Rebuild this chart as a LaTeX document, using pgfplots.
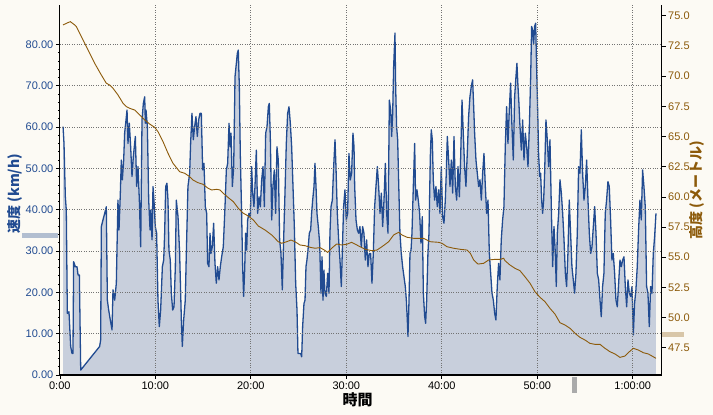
\documentclass[border=0pt]{standalone}
\usepackage{pgfplots}
\pgfplotsset{compat=1.18}
\usepackage{pgfplotstable}
\usepackage{fontspec}
\setmainfont{Liberation Sans}
\newfontfamily\cjk{Noto Sans CJK JP}
\definecolor{bgc}{RGB}{252,250,244}
\definecolor{spd}{RGB}{33,75,145}
\definecolor{spdfill}{RGB}{200,207,220}
\definecolor{ele}{RGB}{140,90,10}
\definecolor{lbar}{RGB}{178,190,208}
\definecolor{rbar}{RGB}{216,198,168}
\definecolor{bbar}{RGB}{170,170,170}
\pgfplotstableread{
t v
0.34 60.1
0.44 56.0
0.58 43.1
0.68 39.9
0.79 14.9
0.96 15.3
1.14 6.9
1.28 5.2
1.38 5.2
1.45 27.4
1.63 26.2
1.80 26.2
1.91 24.2
2.05 24.2
2.15 7.7
2.19 1.2
4.17 6.9
4.28 8.5
4.35 35.9
4.52 37.5
4.70 39.1
4.87 40.7
4.98 18.1
5.12 15.7
5.29 13.3
5.47 10.9
5.57 20.6
5.75 18.1
5.92 22.2
6.09 42.3
6.20 35.1
6.34 44.0
6.44 52.0
6.55 47.2
6.69 52.0
6.79 58.5
6.90 60.9
7.04 64.1
7.14 56.0
7.28 60.9
7.42 55.2
7.56 48.0
7.70 52.8
7.91 57.7
8.05 45.6
8.19 50.4
8.33 42.3
8.47 31.0
8.61 61.7
8.75 65.7
8.89 67.3
8.96 60.9
9.03 64.1
9.17 60.1
9.31 42.3
9.45 35.1
9.52 39.9
9.66 32.7
9.76 45.6
9.86 42.3
10.00 35.9
10.14 34.3
10.28 18.1
10.42 11.7
10.56 15.7
10.74 26.2
10.88 27.8
10.98 34.3
11.09 45.6
11.22 46.4
11.33 42.3
11.43 30.2
11.57 27.8
11.68 19.8
11.82 15.7
11.96 16.5
12.10 26.2
12.20 42.3
12.38 38.3
12.55 29.4
12.73 13.3
12.83 6.9
12.97 13.3
13.14 18.1
13.25 29.4
13.42 45.6
13.60 48.8
13.70 56.0
13.84 63.3
13.98 56.9
14.12 60.1
14.26 62.5
14.40 57.7
14.54 61.7
14.68 63.3
14.82 63.3
14.96 49.6
15.10 51.2
15.24 40.7
15.38 39.1
15.48 27.0
15.62 26.2
15.73 34.3
15.83 29.4
15.97 31.0
16.11 36.7
16.25 27.0
16.39 22.2
16.53 26.2
16.67 23.0
16.81 26.2
16.95 28.6
17.12 31.0
17.30 40.7
17.44 49.6
17.58 51.2
17.72 60.9
17.82 55.2
17.93 58.5
18.07 45.6
18.21 50.4
18.35 72.2
18.49 75.4
18.59 77.8
18.69 78.6
18.80 69.8
18.90 53.6
19.04 39.1
19.15 26.2
19.25 19.0
19.36 25.4
19.46 34.3
19.57 30.2
19.67 37.5
19.81 39.1
19.95 38.3
20.09 50.4
20.20 44.0
20.33 40.7
20.44 45.6
20.58 54.4
20.72 39.1
20.86 43.1
21.00 40.7
21.14 47.2
21.28 50.4
21.42 40.7
21.56 58.5
21.70 60.1
21.84 64.9
21.94 65.7
22.05 56.9
22.19 37.5
22.32 45.6
22.46 49.6
22.60 39.1
22.74 55.2
22.88 52.0
23.02 32.7
23.16 29.4
23.30 20.6
23.44 32.7
23.58 44.0
23.72 56.0
23.86 63.3
24.00 64.9
24.14 60.9
24.28 55.2
24.42 45.6
24.56 35.9
24.70 22.2
24.84 15.7
24.94 5.2
25.08 5.2
25.22 5.2
25.33 4.4
25.43 11.7
25.57 17.3
25.68 18.1
25.78 26.2
25.88 27.8
26.02 31.0
26.13 34.3
26.27 35.1
26.37 39.1
26.48 42.3
26.62 45.6
26.72 51.2
26.83 45.6
26.93 39.1
27.07 35.9
27.21 31.9
27.35 19.8
27.46 28.6
27.56 18.1
27.66 25.4
27.77 19.8
27.91 19.0
28.05 24.6
28.19 19.8
28.29 34.3
28.40 40.7
28.54 42.3
28.68 50.4
28.82 56.9
28.92 50.4
29.06 39.1
29.20 32.7
29.34 27.8
29.48 21.4
29.62 32.7
29.72 40.7
29.86 44.8
30.00 37.5
30.14 39.1
30.28 53.6
30.42 47.2
30.56 48.8
30.70 58.5
30.81 55.2
30.88 45.6
31.02 37.5
31.16 35.1
31.29 34.3
31.43 35.9
31.57 31.0
31.71 35.9
31.85 34.3
31.99 27.8
32.13 32.7
32.27 26.2
32.41 29.4
32.55 29.4
32.69 22.2
32.83 29.4
32.97 40.7
33.11 45.6
33.25 50.4
33.39 45.6
33.53 39.1
33.67 44.0
33.81 35.9
33.95 42.3
34.09 51.2
34.23 39.1
34.37 34.3
34.51 66.5
34.65 64.1
34.75 57.7
34.86 63.3
34.96 74.6
35.03 78.6
35.10 82.7
35.17 69.8
35.27 60.1
35.38 56.9
35.48 47.2
35.62 34.3
35.76 29.4
35.90 26.2
36.04 23.8
36.18 21.4
36.29 18.1
36.39 13.3
36.46 9.3
36.57 18.1
36.67 29.4
36.78 30.2
36.88 34.3
37.02 45.6
37.16 56.0
37.26 42.3
37.40 44.8
37.54 42.3
37.68 39.1
37.82 31.9
37.96 38.3
38.07 19.8
38.21 14.1
38.31 12.5
38.42 18.1
38.55 29.4
38.66 34.3
38.80 52.8
38.90 59.3
39.01 56.9
39.11 47.2
39.25 42.3
39.39 45.6
39.53 40.7
39.67 44.8
39.81 39.1
39.95 50.4
40.09 38.3
40.23 36.7
40.37 42.3
40.47 48.8
40.58 57.7
40.72 52.0
40.86 45.6
41.00 52.0
41.14 44.0
41.28 57.7
41.42 45.6
41.56 42.3
41.70 50.4
41.84 43.1
41.98 52.8
42.12 66.5
42.25 58.5
42.39 50.4
42.53 45.6
42.67 53.6
42.81 62.5
42.95 67.3
43.09 69.8
43.23 71.4
43.34 64.9
43.44 58.5
43.58 52.0
43.72 48.8
43.86 45.6
44.00 47.2
44.14 42.3
44.28 48.8
44.42 53.6
44.56 45.6
44.70 39.1
44.84 42.3
44.98 29.4
45.12 24.6
45.26 19.8
45.40 18.1
45.54 14.9
45.67 13.3
45.81 21.4
45.95 27.0
46.09 23.0
46.23 32.7
46.37 37.5
46.51 40.7
46.65 55.2
46.79 64.9
46.93 56.0
47.07 64.1
47.21 70.6
47.35 60.1
47.49 52.0
47.63 67.3
47.77 72.2
47.87 75.4
47.98 69.8
48.08 65.7
48.19 60.1
48.33 54.4
48.47 61.7
48.61 52.0
48.75 58.5
48.89 55.2
49.03 50.4
49.17 60.1
49.31 72.2
49.41 84.3
49.51 83.5
49.62 80.2
49.72 84.3
49.83 85.1
49.93 74.6
50.04 64.1
50.14 53.6
50.25 48.0
50.35 48.8
50.46 42.3
50.56 39.1
50.67 42.3
50.77 48.8
50.91 61.7
51.05 56.9
51.19 50.4
51.33 56.9
51.47 40.7
51.61 26.2
51.75 35.9
51.89 29.4
51.99 21.4
52.10 34.3
52.24 39.1
52.38 47.2
52.52 44.0
52.66 39.1
52.80 32.7
52.94 24.6
53.07 21.4
53.21 29.4
53.35 42.3
53.49 34.3
53.63 26.2
53.77 23.0
53.91 19.8
54.05 24.6
54.19 34.3
54.33 50.4
54.47 48.8
54.61 59.3
54.75 48.8
54.89 42.3
55.03 45.6
55.17 52.0
55.31 42.3
55.45 34.3
55.59 29.4
55.73 31.0
55.87 35.9
56.01 40.7
56.15 34.3
56.29 24.6
56.43 23.0
56.57 18.1
56.70 14.1
56.84 21.4
56.98 24.6
57.12 39.1
57.26 42.3
57.40 46.8
57.54 45.6
57.68 37.5
57.82 27.8
57.96 29.4
58.10 24.6
58.24 18.1
58.38 16.5
58.52 22.2
58.66 27.8
58.80 26.2
58.94 27.8
59.08 28.6
59.22 21.4
59.36 16.5
59.50 23.0
59.64 19.8
59.78 19.0
59.92 21.4
60.06 9.7
60.19 17.3
60.33 20.6
60.47 26.2
60.61 35.1
60.75 42.3
60.89 37.5
61.03 49.6
61.17 45.6
61.31 40.7
61.45 21.4
61.59 19.8
61.73 11.7
61.87 21.4
62.01 19.8
62.15 29.4
62.29 33.5
62.43 39.1
}\speed
\pgfplotstableread{
t e
0.34 74.24
0.86 74.43
1.10 74.51
1.56 74.24
1.73 74.10
2.26 73.27
2.95 72.17
3.65 71.06
4.35 70.09
4.87 69.41
5.22 69.26
5.57 68.99
6.09 68.44
6.62 67.75
6.97 67.47
7.32 67.33
7.84 67.19
8.36 66.78
8.89 66.37
9.41 66.03
9.93 65.76
10.28 65.40
10.81 64.57
11.33 63.61
11.85 62.78
12.55 62.08
13.08 61.95
13.60 61.67
13.95 61.39
14.47 61.17
14.99 61.04
15.52 60.71
15.90 60.57
16.43 60.62
16.77 60.57
17.12 60.29
17.65 59.93
18.17 59.60
18.69 59.05
19.22 58.64
19.74 58.41
20.27 58.08
20.79 57.58
21.49 57.25
22.19 56.84
22.88 56.28
23.23 56.15
23.76 56.28
24.21 56.42
24.63 56.28
25.15 56.01
25.68 55.95
26.20 55.82
26.72 55.74
27.25 55.79
27.70 55.59
28.05 55.40
28.47 55.74
28.99 56.09
29.51 56.01
30.04 56.07
30.56 56.23
31.29 55.93
31.99 55.65
32.69 55.54
33.21 55.59
33.74 55.87
34.44 56.28
34.96 56.84
35.48 57.06
35.83 56.84
36.36 56.65
37.05 56.56
38.10 56.56
38.80 56.28
39.67 56.23
40.02 56.15
40.54 55.87
41.24 55.74
41.94 55.65
42.64 55.59
42.99 55.32
43.34 54.77
43.79 54.43
44.38 54.49
44.91 54.77
45.60 54.82
46.13 54.82
46.48 54.91
46.62 54.71
47.14 54.35
47.66 54.08
48.19 53.88
48.71 53.38
49.24 52.84
49.76 52.14
50.28 51.68
50.81 51.31
51.33 50.76
51.85 50.29
52.38 49.57
52.90 49.38
53.42 49.11
53.95 48.69
54.47 48.36
54.99 48.14
55.52 47.86
56.04 47.78
56.57 47.78
57.09 47.45
57.61 47.17
58.14 46.98
58.66 46.70
59.18 46.81
59.53 47.09
60.06 47.45
60.58 47.31
61.10 47.09
61.63 46.98
62.15 46.75
62.43 46.62
}\elev
\begin{document}
\begin{tikzpicture}
\fill[bgc] (0,0) rectangle (713pt,415pt);
\useasboundingbox (0,0) rectangle (713pt,415pt);
\begin{axis}[
  at={(59.8pt,40pt)}, anchor=south west,
  width=601.9pt, height=370pt, scale only axis,
  xmin=0, xmax=63.03, ymin=0, ymax=89.5,
  axis x line*=bottom, axis y line*=left,
  axis line style={line width=1.1pt, black, -},
  clip=false, axis on top,
  xtick={0,10,20,30,40,50,60},
  xticklabels={0:00,10:00,20:00,30:00,40:00,50:00,1:00:00},
  ytick={0,10,...,80},
  minor y tick num=4,
  tick align=outside,
  major tick length=4pt, minor tick length=2pt,
  tick style={black, line width=0.6pt},
  grid=major,
  grid style={dotted, line width=0.7pt, black!55},
  /pgf/number format/.cd, fixed, fixed zerofill, precision=2, assume math mode=true,
  /pgfplots/.cd,
  yticklabel style={text=spd, font=\fontsize{11}{11}\selectfont, xshift=1pt},
  xticklabel style={text=black, font=\fontsize{11}{11}\selectfont, yshift=1pt},
  xlabel={\cjk\bfseries 時間},
  xlabel style={at={(axis description cs:0.495,-0.068)}, anchor=center, font=\fontsize{15}{15}\selectfont},
  ylabel={\cjk\bfseries 速度 (km/h)},
  ylabel style={at={(axis description cs:-0.074,0.49)}, anchor=center, rotate=0, text=spd, font=\fontsize{14}{14}\selectfont},
]
\addplot[draw=none, fill=spdfill, forget plot] table[x=t,y=v]{\speed} \closedcycle;
\addplot[spd, line width=1.3pt, line join=round] table[x=t,y=v]{\speed};
\addplot[lbar, line width=5pt, forget plot] coordinates {(-3.97,33.7) (-0.2,33.7)};
\addplot[bbar, line width=5pt, forget plot] coordinates {(53.9,-0.5) (53.9,-4.3)};
\end{axis}
\begin{axis}[
  at={(59.8pt,40pt)}, anchor=south west,
  width=601.9pt, height=370pt, scale only axis,
  xmin=0, xmax=63.03, ymin=45.24, ymax=75.89,
  axis x line=none, axis y line*=right,
  axis line style={line width=1.1pt, black, -},
  clip=false,
  ytick={47.5,50,...,75},
  tick align=outside, major tick length=4pt,
  tick style={black, line width=0.6pt},
  /pgf/number format/.cd, fixed, fixed zerofill, precision=1, assume math mode=true,
  /pgfplots/.cd,
  yticklabel style={text=ele, font=\fontsize{11}{11}\selectfont, xshift=-1pt},
  ylabel={\cjk\bfseries 高度 (メートル)},
  ylabel style={at={(axis description cs:1.058,0.5)}, anchor=center, rotate=0, text=ele, font=\fontsize{14}{14}\selectfont},
]
\addplot[ele, line width=0.9pt] table[x=t,y=e]{\elev};
\addplot[rbar, line width=5pt, forget plot] coordinates {(63.1,48.59) (65.4,48.59)};
\end{axis}
\end{tikzpicture}
\end{document}
